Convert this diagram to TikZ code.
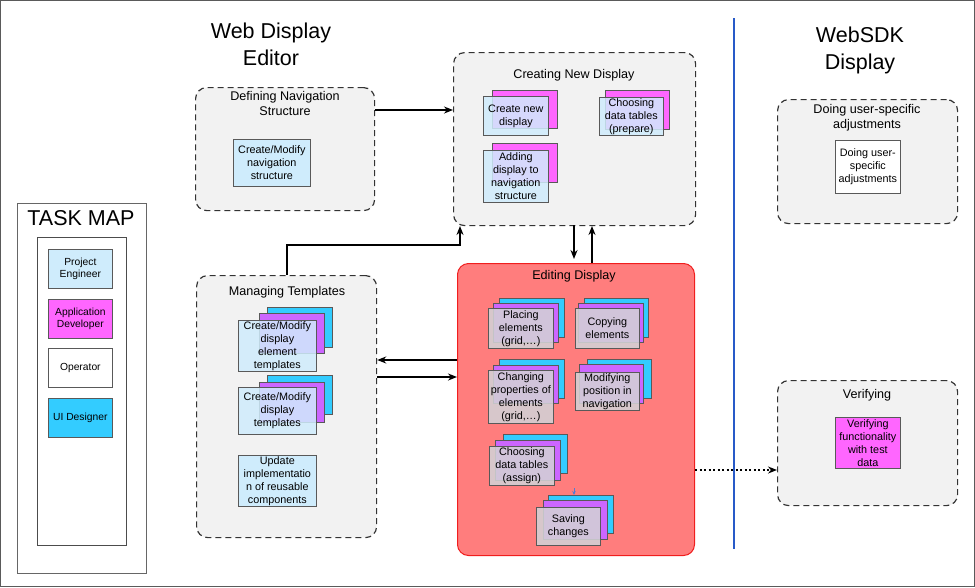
\documentclass[tikz,border=0pt]{standalone}
\usepackage{fontspec}
\setmainfont{Liberation Sans}
\usetikzlibrary{arrows.meta}
\definecolor{grp}{RGB}{242,242,242}
\definecolor{pe}{RGB}{207,236,252}
\definecolor{ad}{RGB}{255,102,255}
\definecolor{adv}{RGB}{204,102,255}
\definecolor{uid}{RGB}{51,204,255}
\definecolor{edbg}{RGB}{255,125,125}
\definecolor{edred}{RGB}{240,30,30}
\definecolor{edfr}{RGB}{210,210,214}
\definecolor{sepblue}{RGB}{40,90,200}
\definecolor{bord}{RGB}{90,90,90}
\tikzset{
  grpbox/.style={draw=black!80, dash pattern=on 6pt off 4pt, line width=1.2pt, fill=grp, rounded corners=11pt, anchor=north west, inner sep=0pt},
  card/.style={draw=black!65, line width=0.7pt, anchor=north west, inner sep=1pt, align=center, font=\fontsize{10.8}{13}\selectfont},
  role/.style={draw=black!65, line width=0.7pt, anchor=north west, inner sep=1pt, align=center, minimum width=64pt, minimum height=39pt, font=\fontsize{10.3}{12.5}\selectfont},
  gtitle/.style={align=center, font=\fontsize{12.6}{15}\selectfont},
  bigtitle/.style={align=center, font=\fontsize{21.5}{27}\selectfont},
  front/.style={card, fill=pe, fill opacity=0.85, text opacity=1},
  efront/.style={card, fill=edfr, fill opacity=0.88, text opacity=1},
  arr/.style={line width=1.6pt, -{Stealth[length=9pt,width=7pt]}},
}
\begin{document}
\begin{tikzpicture}[x=1pt,y=-1pt]
\useasboundingbox (0,0) rectangle (975,587);
\draw[bord, line width=1.2pt] (0.6,0.6) rectangle (974.4,586.4);

% titles
\node[bigtitle] (t1) at (271,44) {Web Display\\Editor};
\node[bigtitle] (t2) at (860,50) {WebSDK\\Display};
\draw[sepblue, line width=2pt] (734,18) -- (734,549);

% task map
\node[draw=black!60, line width=0.7pt, anchor=north west, minimum width=129pt, minimum height=370pt] (tm) at (17,203) {};
\node[font=\fontsize{21.5}{25}\selectfont] (tmt) at (81,218) {TASK MAP};
\node[draw=black!70, line width=0.7pt, anchor=north west, minimum width=89pt, minimum height=308pt] (tmi) at (37,237) {};
\node[role, fill=pe] (r1) at (48,249) {Project\\Engineer};
\node[role, fill=ad] (r2) at (48,299) {Application\\Developer};
\node[role, fill=white] (r3) at (48,348) {Operator};
\node[role, fill=uid] (r4) at (48,398) {UI Designer};

% Defining navigation structure
\node[grpbox, minimum width=179pt, minimum height=123pt] (gdef) at (195,87) {};
\node[gtitle] (gdeft) at (285,103) {Defining Navigation\\Structure};
\node[card, fill=pe, minimum width=77pt, minimum height=47pt] (cnav) at (233,139) {Create/Modify\\navigation\\structure};

% Creating new display
\node[grpbox, minimum width=242pt, minimum height=173pt] (gcre) at (453,52) {};
\node[gtitle] (gcret) at (574,75) {Creating New Display};
\node[card, fill=ad, minimum width=65pt, minimum height=38pt] (c1m) at (492,90) {};
\node[front, minimum width=65pt, minimum height=39pt] (c1) at (483,96) {Create new\\display};
\node[card, fill=ad, minimum width=64pt, minimum height=39pt] (c2m) at (605,90) {};
\node[front, minimum width=64pt, minimum height=38pt] (c2) at (599,97) {Choosing\\data tables\\(prepare)};
\node[card, fill=ad, minimum width=65pt, minimum height=39pt] (c3m) at (492,143) {};
\node[front, minimum width=65pt, minimum height=52pt] (c3) at (483,150) {Adding\\display to\\navigation\\structure};

% Editing display
\node[draw=edred, line width=1pt, fill=edbg, rounded corners=11pt, anchor=north west, minimum width=237pt, minimum height=292pt, inner sep=0pt] (ged) at (457,263) {};
\node[gtitle] (gedt) at (574,276) {Editing Display};
% placing
\node[card, fill=uid, minimum width=65pt, minimum height=39pt] (e1u) at (499,298) {};
\node[card, fill=adv, minimum width=65pt, minimum height=39pt] (e1m) at (493,303) {};
\node[efront, minimum width=65pt, minimum height=40pt] (e1) at (488,308) {Placing\\elements\\(grid,\dots)};
% copying
\node[card, fill=uid, minimum width=64pt, minimum height=39pt] (e2u) at (584,298) {};
\node[card, fill=adv, minimum width=65pt, minimum height=39pt] (e2m) at (578,303) {};
\node[efront, minimum width=64pt, minimum height=40pt] (e2) at (575,308) {Copying\\elements};
% changing properties
\node[card, fill=uid, minimum width=65pt, minimum height=39pt] (e3u) at (499,359) {};
\node[card, fill=adv, minimum width=65pt, minimum height=38pt] (e3m) at (493,365) {};
\node[efront, minimum width=65pt, minimum height=53pt] (e3) at (488,370) {Changing\\properties of\\elements\\(grid,\dots)};
% modifying position
\node[card, fill=uid, minimum width=64pt, minimum height=39pt] (e4u) at (587,359) {};
\node[card, fill=adv, minimum width=64pt, minimum height=39pt] (e4m) at (579,364) {};
\node[efront, minimum width=64pt, minimum height=38pt] (e4) at (575,372) {Modifying\\position in\\navigation};
% choosing data tables assign
\node[card, fill=uid, minimum width=64pt, minimum height=39pt] (e5u) at (503,434) {};
\node[card, fill=adv, minimum width=65pt, minimum height=40pt] (e5m) at (495,440) {};
\node[efront, minimum width=65pt, minimum height=39pt] (e5) at (489,446) {Choosing\\data tables\\(assign)};
% saving
\node[card, fill=uid, minimum width=65pt, minimum height=38pt] (e6u) at (548,495) {};
\node[card, fill=adv, minimum width=64pt, minimum height=39pt] (e6m) at (543,500) {};
\node[efront, minimum width=64pt, minimum height=38pt] (e6) at (536,507) {Saving\\changes};
\coordinate (sv) at (574,488);
\draw[sepblue!80, line width=0.8pt, -{Stealth[length=4pt,width=3.5pt]}] (sv) -- (e6u.north -| sv);

% Managing templates
\node[grpbox, minimum width=180pt, minimum height=262pt] (gman) at (196,275) {};
\node[gtitle] (gmant) at (287,292) {Managing Templates};
\node[card, fill=uid, minimum width=65pt, minimum height=40pt] (m1u) at (267,307) {};
\node[card, fill=adv, minimum width=65pt, minimum height=40pt] (m1m) at (259,313) {};
\node[front, minimum width=78pt, minimum height=47pt] (m1) at (238,320) {Create/Modify\\display\\element\\templates};
\node[card, fill=uid, minimum width=65pt, minimum height=39pt] (m2u) at (267,375) {};
\node[card, fill=adv, minimum width=65pt, minimum height=40pt] (m2m) at (259,382) {};
\node[front, minimum width=78pt, minimum height=47pt] (m2) at (238,387) {Create/Modify\\display\\templates};
\node[card, fill=pe, minimum width=78pt, minimum height=47pt] (m3) at (238,455) {Update\\implementatio\\n of reusable\\components};

% WebSDK groups
\node[grpbox, minimum width=180pt, minimum height=124pt] (gdo) at (777,99) {};
\node[gtitle] (gdot) at (867,118) {Doing user-specific\\adjustments};
\node[card, fill=white, minimum width=65pt, minimum height=53pt] (cdo) at (835,140) {Doing user-\\specific\\adjustments};
\node[grpbox, minimum width=180pt, minimum height=125pt] (gver) at (777,380) {};
\node[gtitle] (gvert) at (867,395) {Verifying};
\node[card, fill=ad, minimum width=65pt, minimum height=51pt] (cver) at (835,417) {Verifying\\functionality\\with test\\data};

% connectors
\draw[arr] (gdef.east |- 0,110) -- (gcre.west |- 0,110);
\draw[arr] (574,225) -- (574,259);
\draw[arr] (592,263) -- (592,226);
\draw[arr] (ged.west |- 0,360) -- (gman.east |- 0,360);
\draw[arr] (gman.east |- 0,377) -- (ged.west |- 0,377);
\coordinate (k1) at (287,245);
\draw[arr] (gman.north -| k1) -- (k1) -- (460,245) -- (460,226);
\draw[line width=1.6pt, dash pattern=on 2pt off 2.5pt, -{Stealth[length=9pt,width=7pt]}] (ged.east |- 0,470) -- (gver.west |- 0,470);
\end{tikzpicture}
\end{document}
